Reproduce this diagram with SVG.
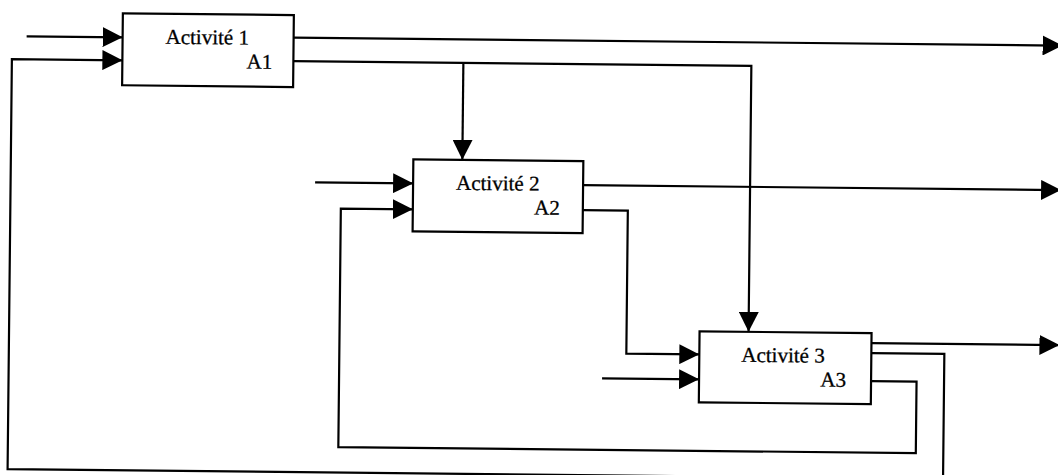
<svg xmlns="http://www.w3.org/2000/svg" width="1058" height="475" viewBox="0 0 1058 475">
  <style>
    .box { fill: #ffffff; stroke: #000000; stroke-width: 2.2; }
    .lbl { font-family: "Liberation Serif", "Times New Roman", serif; font-size: 21px; fill: #000000; stroke: #000000; stroke-width: 0.3; }
    .con { fill: none; stroke: #000000; stroke-width: 2.2; }
    .arr { marker-end: url(#ah); }
  </style>
  <defs>
    <marker id="ah" markerUnits="userSpaceOnUse" markerWidth="20" markerHeight="20" refX="20" refY="10" orient="auto">
      <path d="M0,0 L20,10 L0,20 Z" fill="#000000"/>
    </marker>
  </defs>
  <rect x="0" y="0" width="1058" height="475" fill="#ffffff"/>
  <g transform="rotate(0.6)">
    <g id="connectors">
      <path class="con arr" d="M27,36 H123"/>
      <path class="con arr" d="M875,344 H948 V469 H12.5 V59 H123"/>
      <path class="con arr" d="M294,34.5 H1063"/>
      <path class="con arr" d="M294,58 H752 V324"/>
      <path class="con arr" d="M464,58 V155"/>
      <path class="con arr" d="M317,179 H415"/>
      <path class="con arr" d="M875,372 H920.5 V443.5 H343 V205 H415"/>
      <path class="con arr" d="M585,179 H1063"/>
      <path class="con arr" d="M585,204 H630 V347 H703"/>
      <path class="con arr" d="M606,372 H703"/>
      <path class="con arr" d="M875,334 H1063"/>
    </g>
    <g id="A1">
      <rect class="box" x="123" y="12" width="171" height="72"/>
      <text class="lbl" x="166" y="42">Activité 1</text>
      <text class="lbl" x="273" y="66" text-anchor="end">A1</text>
    </g>
    <g id="A2">
      <rect class="box" x="415" y="155" width="170" height="72"/>
      <text class="lbl" x="458" y="185">Activité 2</text>
      <text class="lbl" x="562" y="209" text-anchor="end">A2</text>
    </g>
    <g id="A3">
      <rect class="box" x="703" y="324" width="172" height="71"/>
      <text class="lbl" x="745" y="354">Activité 3</text>
      <text class="lbl" x="850" y="378" text-anchor="end">A3</text>
    </g>
  </g>
</svg>
